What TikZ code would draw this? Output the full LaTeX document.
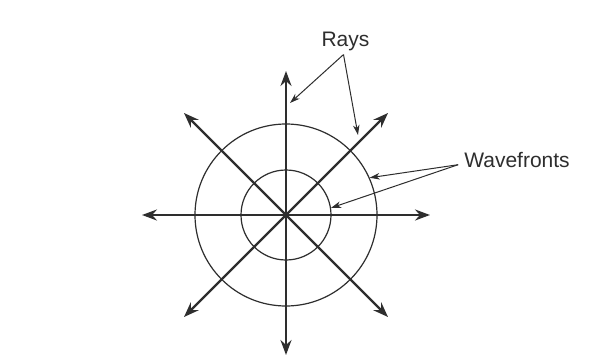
\documentclass[tikz,border=0pt]{standalone}
\usepackage{fontspec}
\setmainfont{Liberation Sans}
\usetikzlibrary{arrows.meta,calc}
\colorlet{inkgray}{black!82}

\begin{document}
\begin{tikzpicture}[
    x=1pt, y=-1pt,
    ray/.style={-{Stealth[length=15pt,width=11pt,inset=5pt]}, line width=2.4pt,
                draw=inkgray},
    front/.style={circle, draw=inkgray, line width=1.2pt, inner sep=0pt},
    pointer/.style={-{Stealth[length=10pt,width=6.5pt,inset=3pt]},
                    line width=1pt, draw=inkgray},
    lbl/.style={font=\fontsize{21}{25}\selectfont, text=inkgray,
                inner sep=0pt, anchor=base},
  ]
    \useasboundingbox[fill=white] (0,0) rectangle (595,356);

    % Source and ray ends
    \coordinate (o) at (286,215);
    \coordinate (n) at (286,71);
    \coordinate (s) at (286,355);
    \coordinate (e) at (430,215);
    \coordinate (w) at (142,215);
    \coordinate (ne) at (388,113);
    \coordinate (nw) at (184,113);
    \coordinate (se) at (388,317);
    \coordinate (sw) at (184,317);

    % Wavefronts
    \node[front, minimum size=182pt] (outer) at (o) {};
    \node[front, minimum size=90pt] (inner) at (o) {};

    % Rays
    \draw[ray] (o) -- (n);
    \draw[ray] (o) -- (s);
    \draw[ray] (o) -- (e);
    \draw[ray] (o) -- (w);
    \draw[ray] (o) -- (ne);
    \draw[ray] (o) -- (nw);
    \draw[ray] (o) -- (se);
    \draw[ray] (o) -- (sw);

    % Labels
    \node[lbl] (rays) at (345.5,46) {Rays};
    \node[lbl] (wavefronts) at (517,167.3) {Wavefronts};

    \coordinate (raysfoot) at ([xshift=-2pt,yshift=-4pt]rays.south);
    \coordinate (hitn) at (290,103);
    \coordinate (hitne) at (358,135);
    \draw[pointer] (raysfoot) -- (hitn);
    \draw[pointer] (raysfoot) -- (hitne);

    \coordinate (wavefoot) at ([xshift=-6pt,yshift=3pt]wavefronts.south west);
    \draw[pointer] (wavefoot) -- (outer.24.3);
    \draw[pointer] (wavefoot) -- (inner.9.9);
  \end{tikzpicture}
\end{document}
